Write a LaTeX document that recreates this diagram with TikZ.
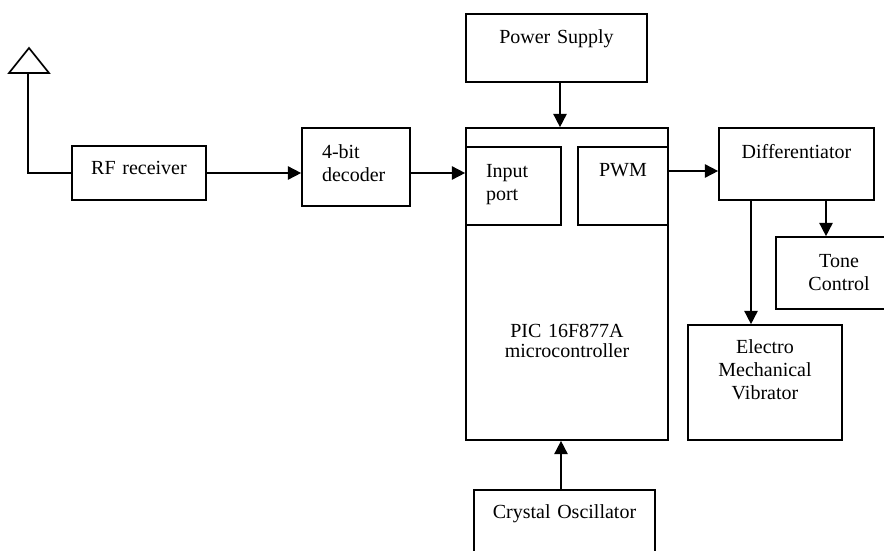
\documentclass[tikz,border=0pt]{standalone}
\usepackage{fontspec}
\setmainfont{Liberation Serif}
\usepackage{tikz}
\usetikzlibrary{positioning, arrows.meta, calc}

\begin{document}
\begin{tikzpicture}[
    x=0.6pt, y=-0.6pt,
    % plain box, the text is placed by text height / depth
    block/.style={draw, rectangle, line width=1pt, inner sep=0pt,
                  font=\fontsize{12}{13.8}\selectfont, align=center},
    arrow/.style={line width=1pt, -{Triangle[length=8pt, width=8pt]}},
    wire/.style={line width=1pt}
]

\useasboundingbox (0,0) rectangle (884,550);

% Power supply
\node[block, text width=108.6pt, text height=17.4pt, text depth=23.4pt] (pwr) at (556.5,48)
  {Power Supply};

% RF receiver
\node[block, text width=80.4pt, text height=16.8pt, text depth=15.6pt] (rf) at (139,173)
  {RF receiver};

% 4-bit decoder
\node[block, align=left, inner xsep=12pt, text width=40.8pt, text height=18pt, text depth=28.8pt] (dec) at (356,167)
  {4-bit\\decoder};

% PIC microcontroller
\node[block, text width=121.2pt, text height=125.4pt, text depth=61.8pt] (pic) at (567,284)
  {PIC 16F877A\\[-1.8pt]microcontroller};

% Ports inside the PIC
\node[block, align=left, inner xsep=12pt, text width=33pt, text height=18pt, text depth=28.8pt] (inp) at (513.5,186)
  {Input\\port};
\node[block, text width=54pt, text height=17.4pt, text depth=29.4pt] (pwm) at (623,186)
  {PWM};

% Differentiator
\node[block, text width=93pt, text height=18pt, text depth=25.2pt] (diff) at (796.5,164)
  {Differentiator};

% Tone control (cut at the right edge)
\node[block, text width=75.6pt, text height=18pt, text depth=25.2pt] (tone) at (839,273)
  {Tone\\Control};

% Electro mechanical vibrator
\node[block, text width=92.4pt, text height=16.8pt, text depth=52.2pt] (emv) at (765,382.5)
  {Electro\\Mechanical\\Vibrator};

% Crystal oscillator (cut at the bottom edge)
\node[block, text width=108.6pt, text height=16.8pt, text depth=25.2pt] (xtal) at (564.5,525)
  {Crystal Oscillator};

% Antenna
\coordinate (ant) at (28,73);
\draw[wire] (ant) -- (9,73) -- (29,48) -- (49,73) -- cycle;
\draw[wire] (ant) |- (rf.west);

% Signal path
\draw[arrow] (rf.east) -- (rf.east -| dec.west);
\draw[arrow] (dec.east |- rf.east) -- (inp.west |- rf.east);
\draw[arrow] ([xshift=2.1pt]pwr.south) -- ([xshift=2.1pt]pwr.south |- pic.north);
\draw[arrow] ([xshift=-2.1pt]xtal.north) -- ([xshift=-2.1pt]xtal.north |- pic.south);
\draw[arrow] ([yshift=9pt]pwm.east) -- ([yshift=9pt]pwm.east -| diff.west);
\draw[arrow] ([xshift=17.7pt]diff.south) -- ([xshift=17.7pt]diff.south |- tone.north);
\draw[arrow] ([xshift=-27.3pt]diff.south) -- ([xshift=-27.3pt]diff.south |- emv.north);

\end{tikzpicture}
\end{document}
